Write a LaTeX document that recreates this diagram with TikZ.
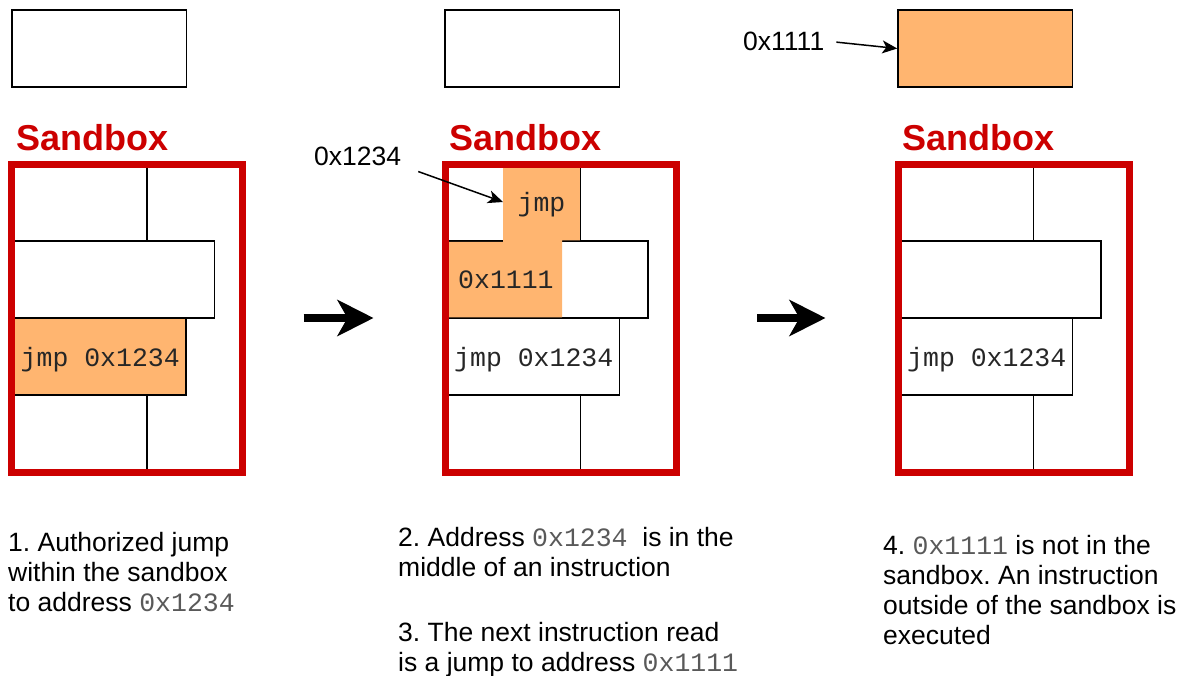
\documentclass[tikz,border=0pt]{standalone}
\usepackage{fontspec}
\setmainfont{Liberation Sans}
\setmonofont{Liberation Mono}
\usetikzlibrary{arrows.meta, positioning}
\definecolor{sbred}{HTML}{CC0000}
\definecolor{hlorange}{HTML}{FFB570}
\newcommand{\addr}[1]{{\ttfamily\color{black!65}#1}}
\frenchspacing

\begin{document}
\begin{tikzpicture}[x=1pt, y=-1pt,
      mem/.style={draw, line width=1.5pt, rectangle, minimum width=174.5pt,
                  minimum height=77pt, inner sep=0pt},
      sbframe/.style={draw=sbred, line width=7pt, rectangle, minimum width=231pt,
                      minimum height=308pt, inner sep=0pt},
      cell/.style={draw, line width=1.5pt},
      sbtitle/.style={font=\fontsize{36}{40}\selectfont\bfseries, text=sbred,
                      anchor=base west, inner sep=0pt},
      codetxt/.style={font=\ttfamily\fontsize{26.5}{30}\selectfont, text=black!85,
                      anchor=base west, inner sep=0pt},
      addrlbl/.style={font=\fontsize{26.5}{30}\selectfont, anchor=base west, inner sep=0pt},
      note/.style={font=\fontsize{26.5}{30}\selectfont, align=left, anchor=north west,
                   inner sep=0pt},
      ptr/.style={line width=1.5pt, -{Stealth[length=15pt, width=13pt, inset=4pt]}},
      nextarr/.style={line width=8pt, -{Stealth[length=36pt, width=36pt, inset=10pt]}}
    ]
    \useasboundingbox (0,0) rectangle (1189,675);

    % Speicher ausserhalb
    \node[mem] (mem1) at (99,48.5) {};
    \node[mem] (mem2) at (532.25,48.5) {};
    \node[mem, fill=hlorange] (mem3) at (985.25,48.5) {};

    % Titel
    \node[sbtitle] (title1) at (16,150) {Sandbox};
    \node[sbtitle] (title2) at (449,150) {Sandbox};
    \node[sbtitle] (title3) at (902,150) {Sandbox};

    % Sandbox 1
    \draw[cell] (147,167.5) -- (147,241);
    \draw[cell] (14,241) rectangle (214.5,318);
    \draw[cell, fill=hlorange] (14,318) rectangle (186,395);
    \draw[cell] (147,395) -- (147,468.5);
    \node[codetxt] (ins1) at (20.5,366.5) {jmp 0x1234};
    \node[sbframe] (sb1) at (127,318) {};

    % Sandbox 2
    \draw[cell] (580.5,167.5) -- (580.5,241);
    \draw[cell] (447.5,241) rectangle (648,318);
    \draw[cell] (447.5,318) rectangle (619.5,395);
    \draw[cell] (580.5,395) -- (580.5,468.5);
    \fill[hlorange] (503,167.5) -- (579.75,167.5) -- (579.75,240.25) -- (562,240.25)
      -- (562,317.25) -- (448.5,317.25) -- (448.5,241.75) -- (503,241.75) -- cycle;
    \node[codetxt, anchor=base] (rd1) at (541.5,211) {jmp};
    \node[codetxt] (rd2) at (458,288.5) {0x1111};
    \node[codetxt] (ins2) at (454,366.5) {jmp 0x1234};
    \node[sbframe] (sb2) at (560.5,318) {};
    \coordinate (rdstart) at (503,202);

    % Sandbox 3
    \draw[cell] (1033.5,167.5) -- (1033.5,241);
    \draw[cell] (900.5,241) rectangle (1101,318);
    \draw[cell] (900.5,318) rectangle (1072.5,395);
    \draw[cell] (1033.5,395) -- (1033.5,468.5);
    \node[codetxt] (ins3) at (907,366.5) {jmp 0x1234};
    \node[sbframe] (sb3) at (1013.5,318) {};

    % Adressen
    \node[addrlbl] (a1234) at (314,165) {0x1234};
    \node[addrlbl] (a1111) at (743,50) {0x1111};
    \draw[ptr, shorten <=18pt] (a1234.south east) -- (rdstart);
    \draw[ptr, shorten <=12pt] (a1111.east) -- (mem3.west);

    % Schritte
    \draw[nextarr] ([xshift=57.5pt]sb1.east) -- ([xshift=-68pt]sb2.west);
    \draw[nextarr] ([xshift=77.5pt]sb2.east) -- ([xshift=-69pt]sb3.west);

    % Erklaerungen
    \node[note] (txt1) at (8,532) {1. Authorized jump\\within the sandbox\\to address \addr{0x1234}};
    \node[note] (txt2) at (398,527) {2. Address \addr{0x1234}\ \ is in the\\middle of an instruction};
    \node[note] (txt3) at (398,622) {3. The next instruction read\\is a jump to address \addr{0x1111}};
    \node[note] (txt4) at (883,535) {4. \addr{0x1111} is not in the\\sandbox. An instruction\\outside of the sandbox is\\executed};
  \end{tikzpicture}
\end{document}
